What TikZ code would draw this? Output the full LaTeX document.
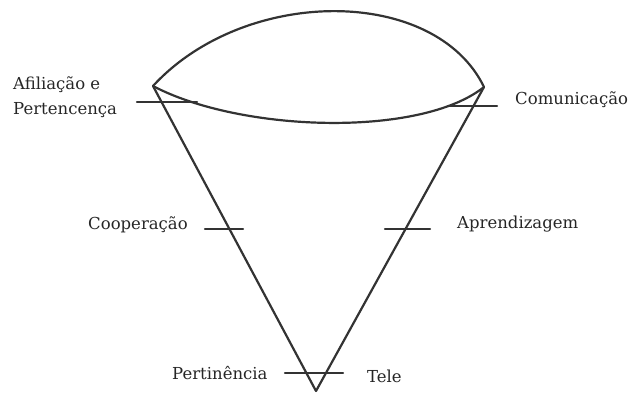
\documentclass[tikz,border=0pt]{standalone}
\usepackage{fontspec}
\setmainfont{DejaVu Serif}
\begin{document}
\begin{tikzpicture}[x=1bp,y=-1bp,
  edge/.style={line width=2.2bp,color=black!80,line join=round,line cap=round},
  lbl/.style={inner sep=0pt,anchor=west,font=\fontsize{16.5bp}{25bp}\selectfont,text=black!85}]
\useasboundingbox (0,0) rectangle (637,394);
% vertices
\coordinate (L) at (153,86);
\coordinate (R) at (484,87);
\coordinate (B) at (316,391);
% top and bottom arcs of the mouth
\draw[edge] (L) .. controls (245,-14) and (435,-14) .. (R);
\draw[edge] (L) .. controls (240,132) and (420,138) .. (R);
% sides of the cone
\draw[edge] (L) -- (B) -- (R);
% tick marks
\coordinate (t1a) at (137,102); \coordinate (t1b) at (197,102);
\coordinate (t2a) at (448,106); \coordinate (t2b) at (497,106);
\coordinate (t3a) at (205,229); \coordinate (t3b) at (243,229);
\coordinate (t4a) at (385,229); \coordinate (t4b) at (430,229);
\coordinate (t5a) at (285,373); \coordinate (t5b) at (343,373);
\draw[edge] (t1a) -- (t1b);
\draw[edge] (t2a) -- (t2b);
\draw[edge] (t3a) -- (t3b);
\draw[edge] (t4a) -- (t4b);
\draw[edge] (t5a) -- (t5b);
% labels
\node[lbl,align=left] (afil) at (13,97) {Afiliação e\\Pertencença};
\node[lbl] (comu) at (515,100) {Comunicação};
\node[lbl] (coop) at (88,225) {Cooperação};
\node[lbl] (apre) at (457,224) {Aprendizagem};
\node[lbl] (pert) at (172,373) {Pertinência};
\node[lbl] (tele) at (367,376) {Tele};
\end{tikzpicture}
\end{document}
